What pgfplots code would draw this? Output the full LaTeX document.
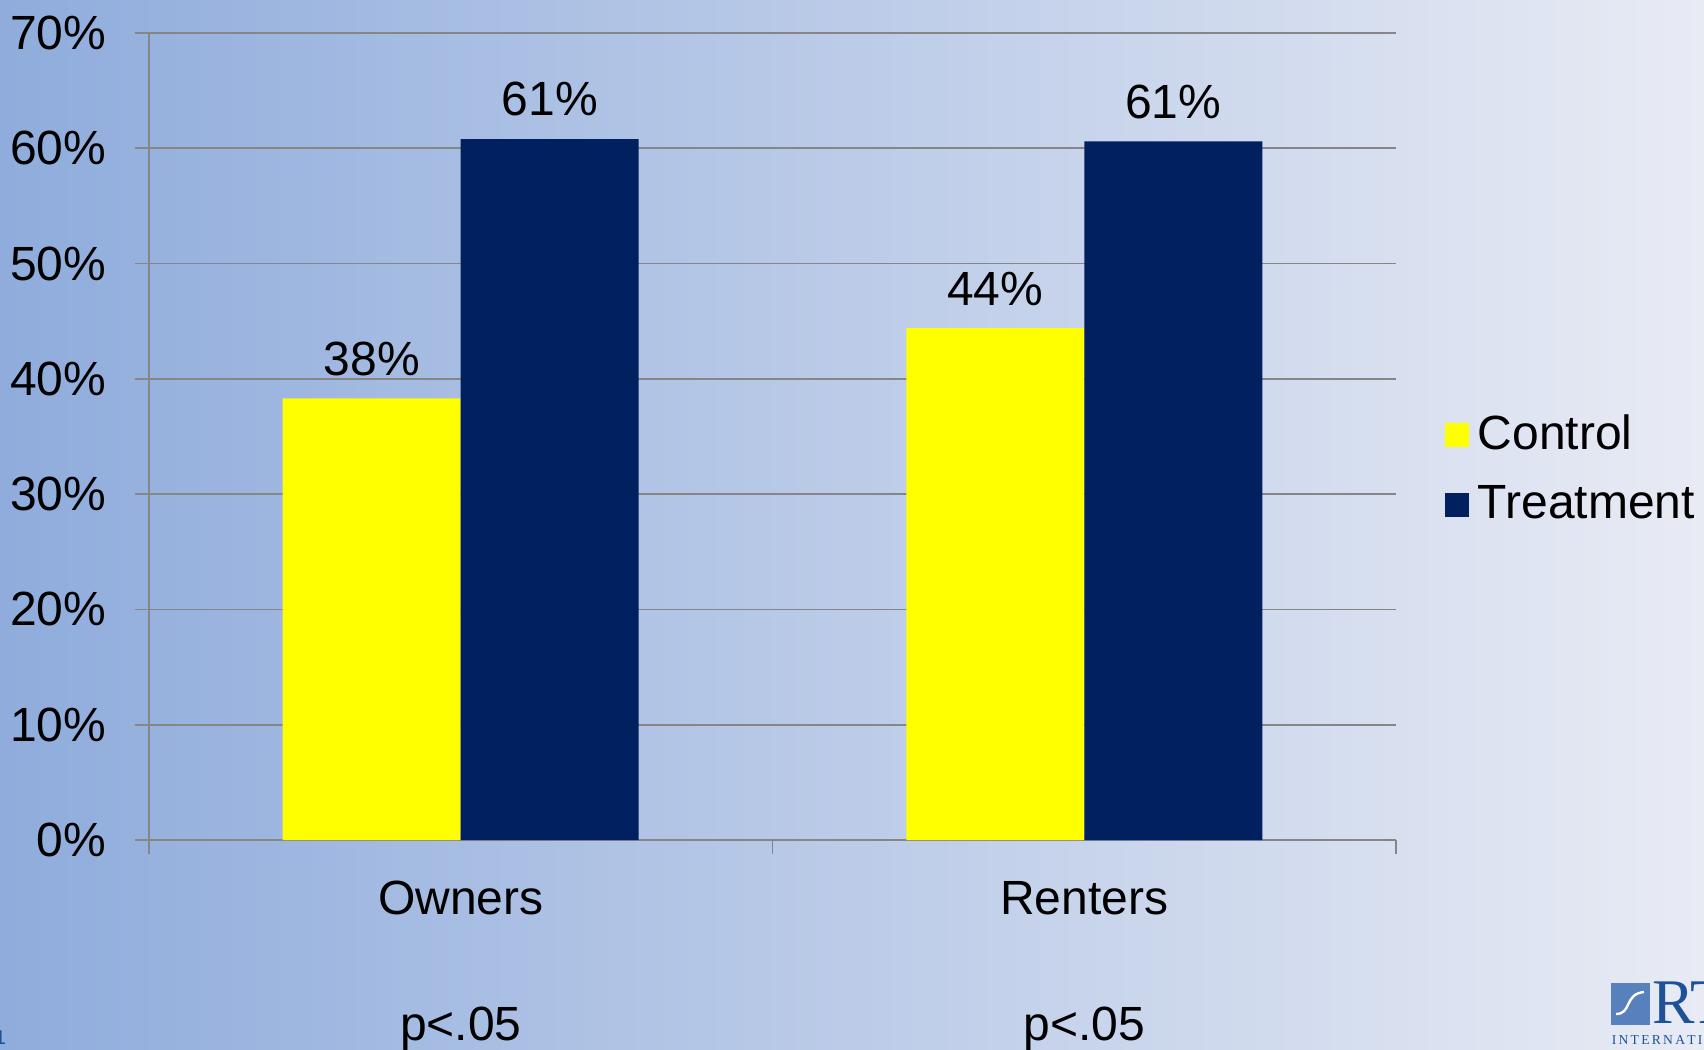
\documentclass[border=0pt]{standalone}
\usepackage{pgfplots}
\pgfplotsset{compat=1.18}
\usepackage{fontspec}
\setmainfont{Liberation Sans}
\newfontfamily\logofont{Liberation Serif}
\definecolor{ctrl}{RGB}{255,255,0}
\definecolor{treat}{RGB}{0,32,96}
\definecolor{gridc}{RGB}{134,134,134}
\definecolor{bgl}{RGB}{143,172,220}
\definecolor{bgm}{RGB}{170,191,229}
\definecolor{bgr}{RGB}{232,235,244}
\definecolor{logob}{RGB}{88,128,188}
\definecolor{logod}{RGB}{30,82,152}
\pgfplotstableread{
x ctrl treat
0 38.3 60.8
1 44.4 60.6
}\datatable
\newcommand{\lbl}{\fontsize{12}{13.5}\selectfont}
\begin{document}
\begin{tikzpicture}
\useasboundingbox (0,0) rectangle (426pt,262.5pt);
\clip (0,0) rectangle (426pt,262.5pt);
\shade[left color=bgl, middle color=bgm, right color=bgr] (0,0) rectangle (426pt,262.5pt);
\begin{axis}[
  at={(37.25pt,52.5pt)}, anchor=south west,
  scale only axis, width=311.75pt, height=201.75pt,
  ybar=0pt, bar width=44.5pt,
  xmin=-0.5, xmax=1.5, ymin=0, ymax=70,
  xtick={0,1}, xticklabels={Owners,Renters},
  minor xtick={-0.5,0.5,1.5},
  ytick={0,10,...,70},
  yticklabel={\pgfmathprintnumber{\tick}\%},
  /pgf/number format/assume math mode=true,
  axis x line*=bottom, axis y line*=left,
  axis line style={gridc, line width=0.45pt, -},
  ymajorgrids, grid style={gridc, line width=0.4pt},
  tick align=outside,
  major x tick style={draw=none},
  minor x tick style={gridc, line width=0.4pt},
  major y tick style={gridc, line width=0.4pt},
  major tick length=3.5pt, minor tick length=3.5pt,
  ticklabel style={font=\lbl, text=black},
  xticklabel style={anchor=north, inner sep=0pt, yshift=-6.6pt},
  yticklabel style={anchor=east, inner sep=0pt, xshift=-7pt},
  nodes near coords={\pgfmathprintnumber[fixed,precision=0]{\pgfplotspointmeta}\%},
  nodes near coords style={font=\lbl, text=black, anchor=south, inner sep=0pt, yshift=5.5pt},
  legend style={at={(1.029,0.459)}, anchor=west, draw=none, fill=none, font=\lbl,
    row sep=7.6pt, nodes={inner sep=0pt, anchor=west}, column sep=0pt},
  legend cell align=left,
  legend image code/.code={\fill[#1] (0pt,-3pt) rectangle (6pt,3pt);},
  clip=false,
]
\addplot[draw=none, fill=ctrl] table[x=x, y=ctrl] {\datatable};
\addlegendentry{\hspace{2.2pt}Control}
\addplot[draw=none, fill=treat] table[x=x, y=treat] {\datatable};
\addlegendentry{\hspace{2.2pt}Treatment}
\node[font=\lbl, anchor=base] at (axis cs:0,0) [yshift=-50pt] {p<.05};
\node[font=\lbl, anchor=base] at (axis cs:1,0) [yshift=-50pt] {p<.05};
\end{axis}
\node[anchor=base west, inner sep=0pt, text=logod, font=\fontsize{5}{6}\selectfont] at (-1.5pt,1.5pt) {1};
\fill[logob] (402.75pt,6.25pt) rectangle (412.5pt,16.75pt);
\draw[white, line width=0.6pt] (404pt,9pt) .. controls (408pt,9pt) and (406pt,14pt) .. (411pt,14.5pt);
\node[anchor=base west, inner sep=0pt, text=logod, font=\logofont\fontsize{15.9}{16}\selectfont] at (412.8pt,6.6pt) {RTI};
\node[anchor=base west, inner sep=0pt, text=logod, font=\logofont\fontsize{3.4}{4}\selectfont] at (402.75pt,1.4pt) {I\,N\,T\,E\,R\,N\,A\,T\,I\,O\,N\,A\,L};
\end{tikzpicture}
\end{document}
